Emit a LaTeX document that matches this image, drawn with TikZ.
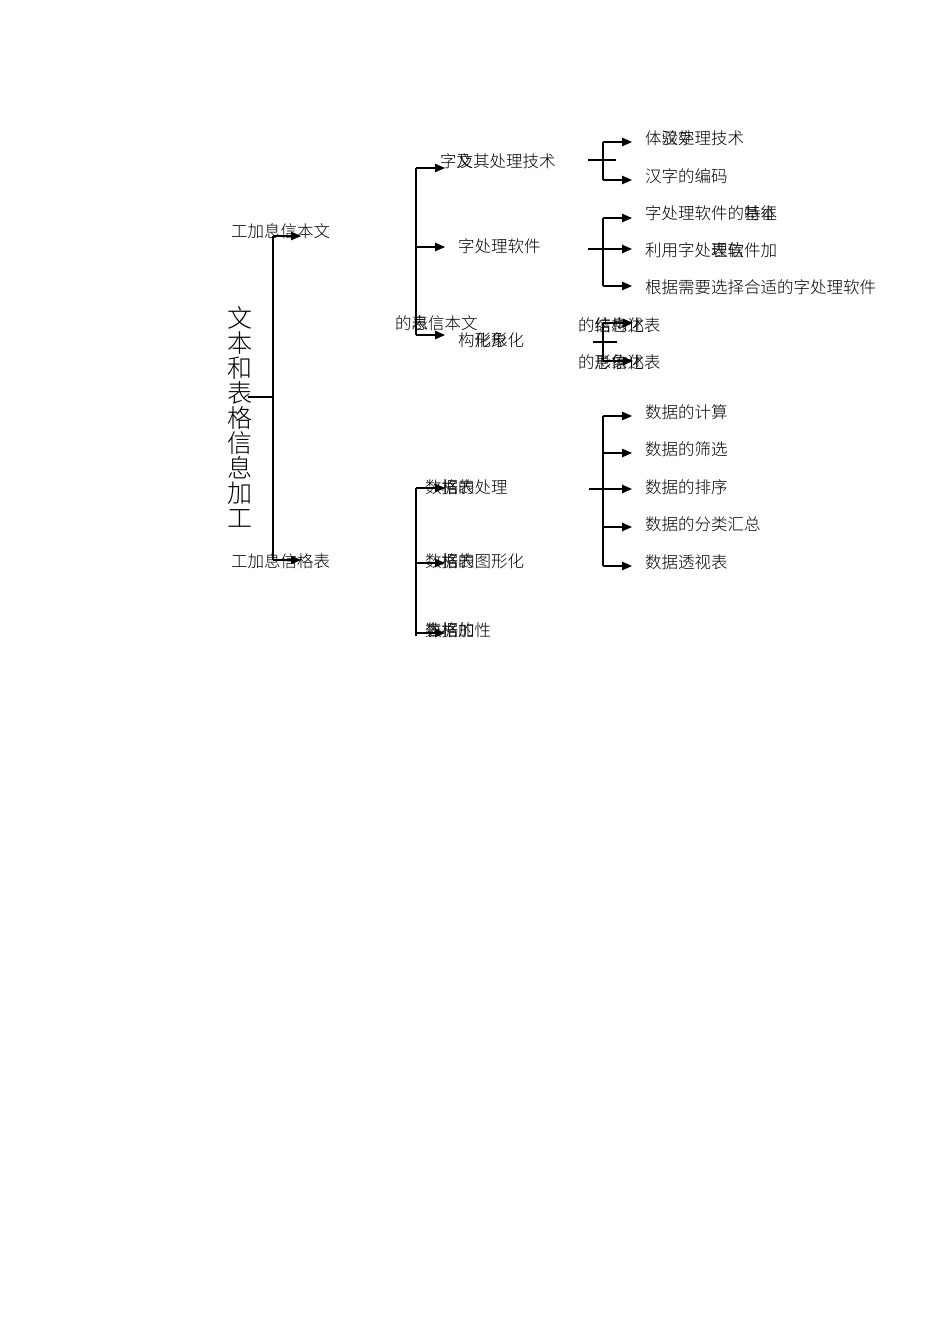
\documentclass[tikz,border=0pt]{standalone}
\usepackage{fontspec}
\setmainfont{Noto Sans CJK SC}[UprightFont={* Light}]
\usetikzlibrary{arrows.meta}
\newcommand\overlapch[2]{\makebox[0pt][l]{#1}#2}
\tikzset{
  lbl/.style={anchor=west,inner sep=0pt,font=\fontsize{16.5}{18}\selectfont},
  branch/.style={line width=1.1pt},
  arr/.style={branch,-{Triangle[length=10pt,width=8.5pt]}},
}
\begin{document}
\begin{tikzpicture}[x=1pt,y=-1pt]
\useasboundingbox (0,0) rectangle (950,1344);
% trunk
\node[inner sep=0pt,align=center,font=\fontsize{25}{25}\selectfont] (title) at (240,417) {文\\本\\和\\表\\格\\信\\息\\加\\工};
\node[lbl] (textinfo) at (231,231) {工加息信本文};
\node[lbl] (tableinfo) at (231,561) {工加息信格表};
\coordinate (root) at (248,397);
\coordinate (t1) at (273,236); \coordinate (t1 tip) at (301,236);
\coordinate (t2) at (273,560); \coordinate (t2 tip) at (301,560);
\draw[branch] (root) -- (root -| t1);
\draw[branch] (t1) -- (t2);
\draw[arr] (t1) -- (t1 tip);
\draw[arr] (t2) -- (t2 tip);
% text processing, second level
\node[lbl] (chars) at (440,161) {字\overlapch{及}{文}其处理技术};
\node[lbl] (wp) at (458,246) {字处理软件};
\node[lbl] (shape) at (458,340) {构\overlapch{化}{形}\overlapch{象}{形}化};
\node[lbl] (textof) at (395,323) {的\overlapch{息}{表}信本文};
\foreach \n/\y in {u1/168,u2/247,u3/335} {
  \coordinate (\n) at (416,\y); \coordinate (\n tip) at (445,\y);
  \draw[arr] (\n) -- (\n tip);
}
\draw[branch] (u1) -- (u3);
% chars group
\node[lbl] (exp) at (645,138) {体\overlapch{验}{汉}\overlapch{处}{字}理技术};
\node[lbl] (code) at (645,176) {汉字的编码};
\coordinate (g1 stub) at (588,160); \coordinate (g1 end) at (616,160);
\foreach \n/\y in {g1a/142,g1b/180} {
  \coordinate (\n) at (603,\y); \coordinate (\n tip) at (632,\y);
  \draw[arr] (\n) -- (\n tip);
}
\draw[branch] (g1a) -- (g1b);
\draw[branch] (g1 stub) -- (g1 end);
% word processor group
\node[lbl] (feat) at (645,213) {字处理软件的\overlapch{基}{特}\overlapch{本}{征}};
\node[lbl] (use) at (645,250) {利用字处\overlapch{理}{表}\overlapch{软}{信}件加};
\node[lbl] (choose) at (645,287) {根据需要选择合适的字处理软件};
\coordinate (g2 stub) at (588,249);
\foreach \n/\y in {g2a/218,g2b/249,g2c/286} {
  \coordinate (\n) at (603,\y); \coordinate (\n tip) at (632,\y);
  \draw[arr] (\n) -- (\n tip);
}
\draw[branch] (g2a) -- (g2c);
\draw[branch] (g2 stub) -- (g2b);
% structure group
\node[lbl] (struct) at (578,325) {的\overlapch{结}{信}\overlapch{构}{息}\overlapch{化}{述}表};
\node[lbl] (image) at (578,362) {的\overlapch{形}{息}\overlapch{象}{信}\overlapch{化}{述}表};
\coordinate (g3 stub) at (593,342); \coordinate (g3 end) at (617,342);
\foreach \n/\y in {g3a/323,g3b/361} {
  \coordinate (\n) at (603,\y); \coordinate (\n tip) at (633,\y);
  \draw[arr] (\n) -- (\n tip);
}
\draw[branch] (g3a) -- (g3b);
\draw[branch] (g3 stub) -- (g3 end);
% table processing, second level
\node[lbl] (dproc) at (425,487) {数\overlapch{据}{格}\overlapch{的}{表}处理};
\node[lbl] (dgraph) at (425,561) {数\overlapch{据}{格}\overlapch{的}{表}图形化};
\node[lbl] (dprop) at (425,630) {\overlapch{数}{表}\overlapch{据}{格}\overlapch{加}{的}性};
\foreach \n/\y in {d1/488,d2/563,d3/633} {
  \coordinate (\n) at (416,\y); \coordinate (\n tip) at (445,\y);
  \draw[arr] (\n) -- (\n tip);
}
\coordinate (d bot) at (416,636);
\draw[branch] (d1) -- (d bot);
% data processing group
\node[lbl] (calc) at (645,412) {数据的计算};
\node[lbl] (filter) at (645,449) {数据的筛选};
\node[lbl] (sort) at (645,487) {数据的排序};
\node[lbl] (subtotal) at (645,524) {数据的分类汇总};
\node[lbl] (pivot) at (645,562) {数据透视表};
\coordinate (g4 stub) at (589,489);
\foreach \n/\y in {g4a/416,g4b/453,g4c/489,g4d/527,g4e/566} {
  \coordinate (\n) at (603,\y); \coordinate (\n tip) at (632,\y);
  \draw[arr] (\n) -- (\n tip);
}
\draw[branch] (g4a) -- (g4e);
\draw[branch] (g4 stub) -- (g4c);
\end{tikzpicture}
\end{document}
